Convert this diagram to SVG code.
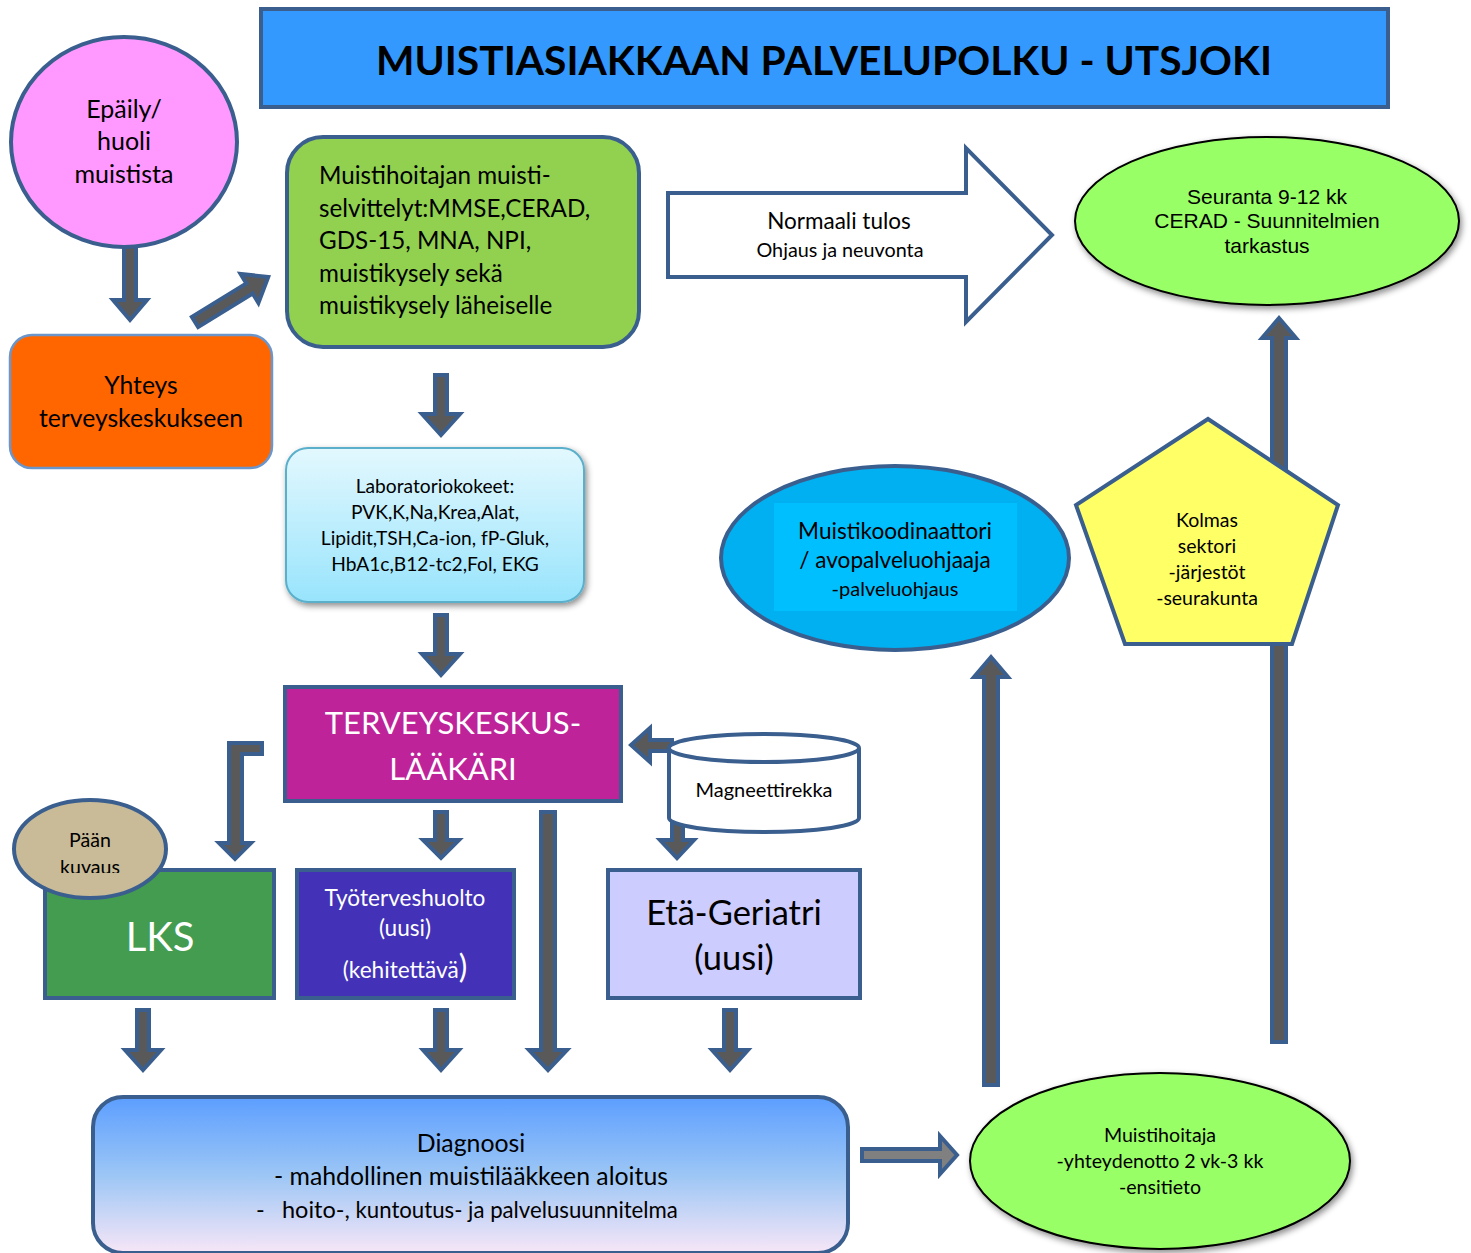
<svg xmlns="http://www.w3.org/2000/svg" width="1471" height="1253" viewBox="0 0 1471 1253">
<defs>
<style>
.t{font-family:Lato,"Open Sans","Liberation Sans",sans-serif;fill:#000;text-anchor:middle}
.w{fill:#fff}
.a{fill:#595959;stroke:#3A5F8F;stroke-width:4;stroke-linejoin:miter}
.ol{stroke:#3A5F8F;stroke-width:4}
</style>
<linearGradient id="labg" x1="0" y1="0" x2="0" y2="1"><stop offset="0" stop-color="#E3F8FE"/><stop offset="1" stop-color="#98E4FC"/></linearGradient>
<linearGradient id="diag" x1="0" y1="0" x2="0" y2="1"><stop offset="0" stop-color="#5C9EFF"/><stop offset="0.5" stop-color="#9CC6F5"/><stop offset="1" stop-color="#F7E6F7"/></linearGradient>
<filter id="sh" x="-10%" y="-10%" width="125%" height="130%"><feDropShadow dx="2" dy="3" stdDeviation="3" flood-color="#000" flood-opacity="0.45"/></filter>
<clipPath id="pc"><rect x="0" y="800" width="200" height="73"/></clipPath>
</defs>
<rect width="1471" height="1253" fill="#fff"/>

<g id="title">
<rect x="261" y="9" width="1127" height="98" fill="#3399FF" class="ol"/>
<text class="t" x="824" y="75" font-size="40" font-weight="bold" textLength="896" lengthAdjust="spacingAndGlyphs">MUISTIASIAKKAAN PALVELUPOLKU - UTSJOKI</text>
</g>

<g id="connectors">
<polygon class="a" points="124,235 136,235 136,300 147,300 130,320 113,300 124,300"/>
<polygon class="a" transform="translate(195,322) rotate(-31.6)" points="0,-6 64,-6 64,-17 86,0 64,17 64,6 0,6"/>
<polygon class="a" points="435,375 447,375 447,414 460,414 441,435 422,414 435,414"/>
<polygon class="a" points="435,615 447,615 447,654 460,654 441,675 422,654 435,654"/>
<polygon class="a" points="435,812 447,812 447,840 459,840 441,858 423,840 435,840"/>
<polygon class="a" points="541,812 555,812 555,1050 567,1050 548,1070 529,1050 541,1050"/>
<polygon class="a" points="137,1010 149,1010 149,1050 161,1050 143,1070 125,1050 137,1050"/>
<polygon class="a" points="435,1010 447,1010 447,1050 459,1050 441,1070 423,1050 435,1050"/>
<polygon class="a" points="724,1010 736,1010 736,1050 748,1050 730,1070 712,1050 724,1050"/>
<polygon class="a" points="672,818 683,818 683,840 694,840 677,858 660,840 672,840"/>
<polygon class="a" points="262,743 262,754 242,754 242,843 251,843 235,859 219,843 229,843 229,743"/>
<polygon class="a" points="672,740 672,751 650,751 650,762 631,745 650,728 650,740"/>
<polygon class="a" style="fill:#808080" points="862,1149 940,1149 940,1136 957,1155 940,1174 940,1161 862,1161"/>
<polygon class="a" points="984,1085 998,1085 998,677 1008,677 991,657 974,677 984,677"/>
<polygon class="a" points="1272,1042 1286,1042 1286,338 1296,338 1279,318 1262,338 1272,338"/>
</g>

<g id="epaily">
<ellipse cx="124" cy="142" rx="113" ry="105" fill="#FF99FF" class="ol"/>
<text class="t" font-size="25"><tspan x="124" y="118">Epäily/</tspan><tspan x="124" y="150">huoli</tspan><tspan x="124" y="183">muistista</tspan></text>
</g>

<g id="yhteys">
<rect x="10" y="335" width="262" height="133" rx="22" fill="#FF6600" stroke="#6A96CC" stroke-width="2.5"/>
<text class="t" font-size="24.7"><tspan x="141" y="394">Yhteys</tspan><tspan x="141" y="427">terveyskeskukseen</tspan></text>
</g>

<g id="muistihoitajan">
<rect x="287" y="137" width="352" height="210" rx="36" fill="#92D050" class="ol"/>
<text class="t" font-size="24.2" style="text-anchor:start"><tspan x="319" y="184">Muistihoitajan muisti-</tspan><tspan x="319" y="217">selvittelyt:MMSE,CERAD,</tspan><tspan x="319" y="249">GDS-15, MNA, NPI,</tspan><tspan x="319" y="282">muistikysely sekä</tspan><tspan x="319" y="314">muistikysely läheiselle</tspan></text>
</g>

<g id="normaali">
<polygon points="668,193 966,193 966,148 1052,235 966,322 966,277 668,277" fill="#fff" class="ol"/>
<text class="t" font-size="22.5" x="839" y="229">Normaali tulos</text>
<text class="t" font-size="19.8" x="840" y="257">Ohjaus ja neuvonta</text>
</g>

<g id="seuranta">
<ellipse cx="1267" cy="221" rx="192" ry="84" fill="#99FF66" stroke="#000" stroke-width="2" filter="url(#sh)"/>
<text class="t" font-size="21" style="font-family:'Liberation Sans',Arial,sans-serif"><tspan x="1267" y="204">Seuranta 9-12 kk</tspan><tspan x="1267" y="228">CERAD - Suunnitelmien</tspan><tspan x="1267" y="253">tarkastus</tspan></text>
</g>

<g id="lab">
<rect x="286" y="448" width="298" height="154" rx="22" fill="url(#labg)" stroke="#5AAFCB" stroke-width="2" filter="url(#sh)"/>
<text class="t" font-size="19.2"><tspan x="435" y="493">Laboratoriokokeet:</tspan><tspan x="435" y="519">PVK,K,Na,Krea,Alat,</tspan><tspan x="435" y="545">Lipidit,TSH,Ca-ion, fP-Gluk,</tspan><tspan x="435" y="571">HbA1c,B12-tc2,Fol, EKG</tspan></text>
</g>

<g id="tk">
<rect x="285" y="687" width="336" height="114" fill="#BE2399" class="ol"/>
<text class="t w" font-size="31"><tspan x="453" y="734">TERVEYSKESKUS-</tspan><tspan x="453" y="780">LÄÄKÄRI</tspan></text>
</g>

<g id="magneettirekka">
<path d="M669,748 L669,818 A95,14 0 0 0 859,818 L859,748" fill="#fff" class="ol"/>
<ellipse cx="764" cy="748" rx="95" ry="14" fill="#fff" class="ol"/>
<text class="t" font-size="20" x="764" y="797">Magneettirekka</text>
</g>

<g id="lks">
<rect x="45" y="870" width="229" height="128" fill="#449C50" class="ol"/>
<text class="t w" font-size="40" x="160" y="951">LKS</text>
</g>

<g id="paan">
<ellipse cx="90" cy="849" rx="76" ry="49" fill="#C9BB98" class="ol"/>
<text class="t" font-size="19.6" clip-path="url(#pc)"><tspan x="90" y="847">Pään</tspan><tspan x="90" y="874">kuvaus</tspan></text>
</g>

<g id="tyoterveys">
<rect x="297" y="870" width="217" height="128" fill="#4332B8" class="ol"/>
<text class="t w" font-size="22.6"><tspan x="405" y="906">Työterveshuolto</tspan><tspan x="405" y="936">(uusi)</tspan><tspan x="405" y="978">(kehitettävä<tspan font-size="32">)</tspan></tspan></text>
</g>

<g id="etageriatri">
<rect x="608" y="870" width="252" height="128" fill="#CCCCFF" class="ol"/>
<text class="t" font-size="34.5"><tspan x="734" y="925">Etä-Geriatri</tspan><tspan x="734" y="970">(uusi)</tspan></text>
</g>

<g id="diagnoosi">
<rect x="93" y="1097" width="755" height="156" rx="30" fill="url(#diag)" class="ol"/>
<text class="t" font-size="24.8"><tspan x="471" y="1152">Diagnoosi</tspan><tspan x="471" y="1185">- mahdollinen muistilääkkeen aloitus</tspan></text>
<text class="t" font-size="23.5" style="text-anchor:start"><tspan x="256" y="1218">-</tspan><tspan x="282" y="1218">hoito-,</tspan><tspan font-size="22.2"> kuntoutus- ja palvelusuunnitelma</tspan></text>
</g>

<g id="muistihoitaja">
<ellipse cx="1160" cy="1161" rx="190" ry="88" fill="#99FF66" stroke="#000" stroke-width="2" filter="url(#sh)"/>
<text class="t" font-size="19.6"><tspan x="1160" y="1142">Muistihoitaja</tspan><tspan x="1160" y="1168">-yhteydenotto 2 vk-3 kk</tspan><tspan x="1160" y="1194">-ensitieto</tspan></text>
</g>

<g id="kolmas">
<polygon points="1208,419 1338,505 1292,644 1125,644 1076,505" fill="#FFFF66" class="ol"/>
<text class="t" font-size="19.5"><tspan x="1207" y="527">Kolmas</tspan><tspan x="1207" y="553">sektori</tspan><tspan x="1207" y="579">-järjestöt</tspan><tspan x="1207" y="605">-seurakunta</tspan></text>
</g>

<g id="muistikoordinaattori">
<ellipse cx="895" cy="558" rx="174" ry="92" fill="#00B0F0" class="ol"/>
<rect x="774" y="503" width="243" height="108" fill="#00BFFF"/>
<text class="t" font-size="22.6"><tspan x="895" y="539">Muistikoodinaattori</tspan><tspan x="895" y="568">/ avopalveluohjaaja</tspan></text>
<text class="t" font-size="20" x="895" y="596">-palveluohjaus</text>
</g>
</svg>
